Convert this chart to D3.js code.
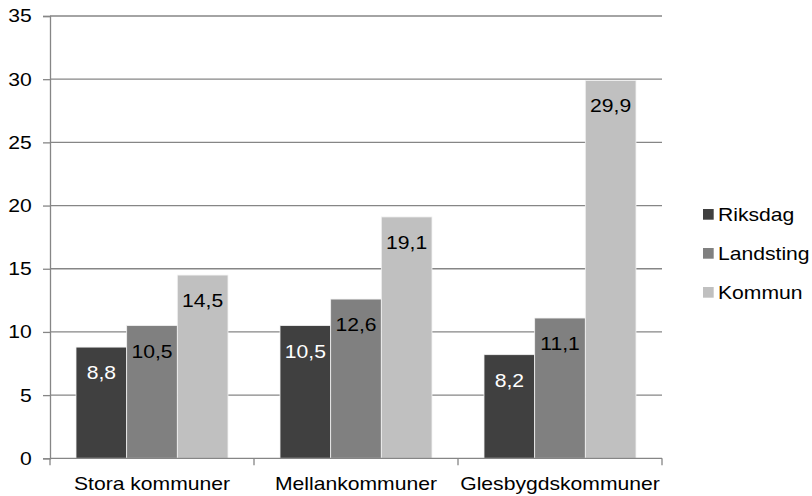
<!DOCTYPE html>
<html>
<head>
<meta charset="utf-8">
<script src="https://cdn.jsdelivr.net/npm/d3@7"></script>
<style>
  body { margin: 0; background: #fff; }
  svg { display: block; font-family: "Liberation Sans", Arial, sans-serif; }
</style>
</head>
<body>
<svg id="chart" width="812" height="496"></svg>
<script>
const categories = ["Stora kommuner", "Mellankommuner", "Glesbygdskommuner"];
const seriesNames = ["Riksdag", "Landsting", "Kommun"];
const riksdag = [8.8, 10.5, 8.2];
const landsting = [10.5, 12.6, 11.1];
const kommun = [14.5, 19.1, 29.9];
const yTicks = [0, 5, 10, 15, 20, 25, 30, 35];
const colors = ["#404040", "#808080", "#c0c0c0"];
const labelColors = ["#ffffff", "#000000", "#000000"];

(function () {
const seriesValues = [riksdag, landsting, kommun];
const data = categories.map((c, i) => ({
  cat: c,
  vals: seriesNames.map((s, j) => ({ s, j, v: seriesValues[j][i] }))
}));

const svg = d3.select("#chart");
const pLeft = 50, pRight = 662, pTop = 16, pBottom = 458.3;
const fontSize = 18.7;
const sx = 1.13;
const axisColor = "#868686";

const y = d3.scaleLinear().domain([0, 35]).range([pBottom, pTop]);
const x0 = d3.scaleBand().domain(categories).range([pLeft, pRight])
  .paddingInner(0.255).paddingOuter(0.1275);
const x1 = d3.scaleBand().domain(seriesNames).range([0, x0.bandwidth()]);

// gridlines
svg.append("g").selectAll("line").data(yTicks.filter(t => t > 0)).join("line")
  .attr("x1", pLeft).attr("x2", pRight)
  .attr("y1", d => y(d)).attr("y2", d => y(d))
  .attr("stroke", axisColor).attr("stroke-width", 1.3);

// y axis
const yAxis = svg.append("g").attr("transform", `translate(${pLeft},0)`)
  .call(d3.axisLeft(y).tickValues(yTicks).tickSize(7).tickPadding(9.2).tickFormat(d3.format("d")));
yAxis.select(".domain").attr("stroke", axisColor).attr("stroke-width", 1.3);
yAxis.selectAll(".tick line").attr("stroke", axisColor).attr("stroke-width", 1.3);
yAxis.selectAll("text").attr("font-size", fontSize).attr("fill", "#000")
  .attr("font-family", "Liberation Sans, Arial, sans-serif")
  .attr("transform", `scale(${sx},1)`);

// bars
const groups = svg.append("g").selectAll("g").data(data).join("g")
  .attr("transform", d => `translate(${x0(d.cat)},0)`);
groups.selectAll("rect").data(d => d.vals).join("rect")
  .attr("x", d => x1(d.s)).attr("width", x1.bandwidth())
  .attr("y", d => y(d.v)).attr("height", d => y(0) - y(d.v))
  .attr("fill", d => colors[d.j])
  .attr("stroke", "#f2f2f2").attr("stroke-width", 0.8);
groups.selectAll("text").data(d => d.vals).join("text")
  .attr("transform", d => `translate(${x1(d.s) + x1.bandwidth() / 2},${y(d.v) + 32}) scale(${sx},1)`)
  .attr("text-anchor", "middle")
  .attr("font-size", fontSize)
  .attr("fill", d => labelColors[d.j])
  .text(d => String(d.v.toFixed(1)).replace(".", ","));

// x axis
const xAxis = svg.append("g").attr("transform", `translate(0,${pBottom})`)
  .call(d3.axisBottom(x0).tickSize(0).tickPadding(18.5));
xAxis.select(".domain").attr("stroke", axisColor).attr("stroke-width", 1.3)
  .attr("d", `M${pLeft},0H${pRight}`);
xAxis.selectAll("text").attr("font-size", fontSize).attr("fill", "#000")
  .attr("font-family", "Liberation Sans, Arial, sans-serif")
  .attr("transform", `scale(${sx},1)`);
// category boundary ticks
const boundaries = categories.map(c => x0(c) - x0.step() * x0.paddingInner() / 2).concat([pRight]);
svg.append("g").selectAll("line").data(boundaries).join("line")
  .attr("x1", d => d).attr("x2", d => d)
  .attr("y1", pBottom).attr("y2", pBottom + 7)
  .attr("stroke", axisColor).attr("stroke-width", 1.3);

// legend
const legend = svg.append("g").attr("transform", "translate(703,209)");
const li = legend.selectAll("g").data(seriesNames).join("g")
  .attr("transform", (d, i) => `translate(0,${i * 39})`);
li.append("rect").attr("width", 10.7).attr("height", 10.7)
  .attr("fill", (d, i) => colors[i]);
li.append("text").attr("transform", `translate(15,11.5) scale(${sx},1)`)
  .attr("font-size", fontSize).attr("fill", "#000").text(d => d);
})();
</script>
</body>
</html>
